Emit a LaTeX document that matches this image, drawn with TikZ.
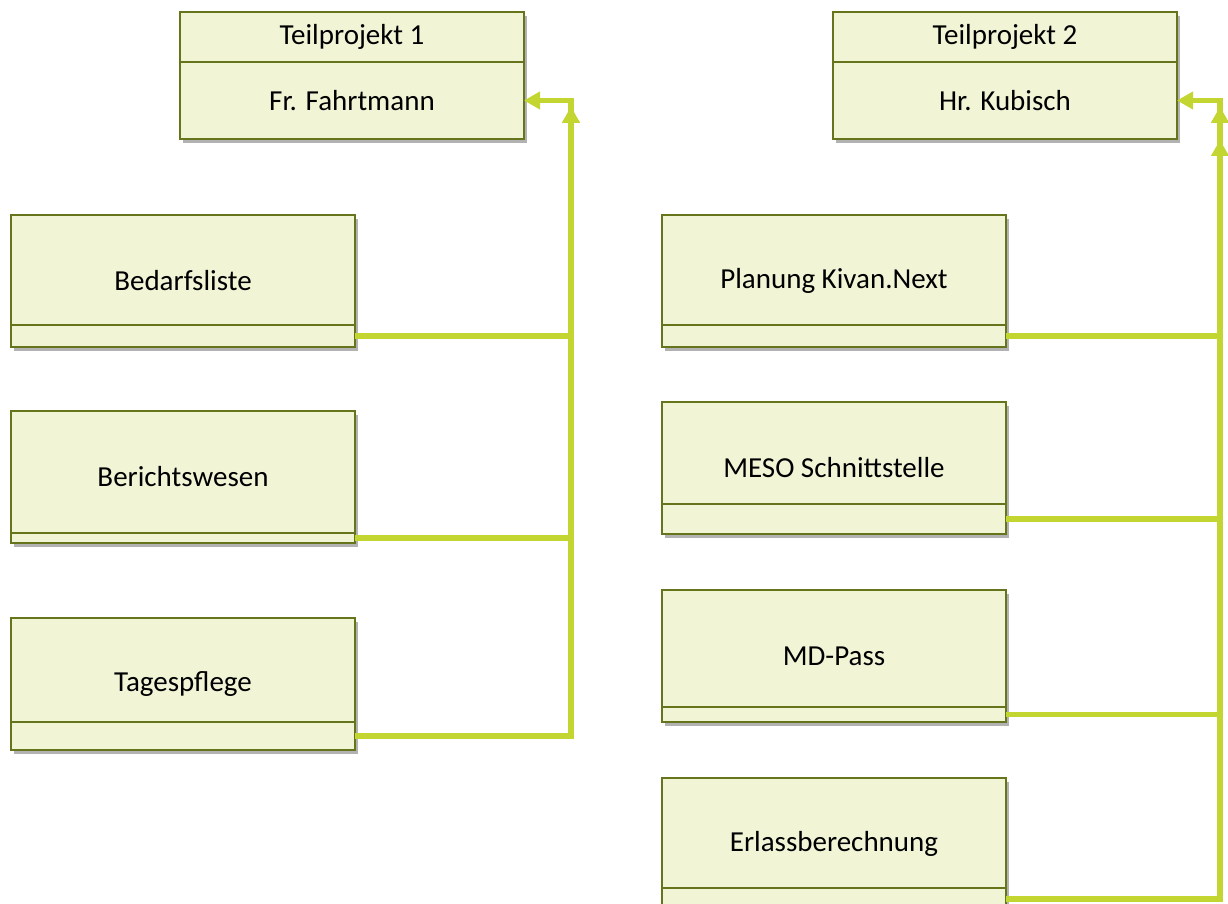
\documentclass[tikz,border=0pt]{standalone}
\usepackage{fontspec}
\setmainfont{Carlito}
\usetikzlibrary{positioning,arrows.meta,shadows}
\definecolor{boxfill}{RGB}{241,245,214}
\definecolor{boxline}{RGB}{102,116,28}
\definecolor{linkline}{RGB}{195,213,48}

\begin{document}
\begin{tikzpicture}[x=0.5pt, y=-0.5pt,
  every node/.style={font=\fontsize{14.5}{17}\selectfont},
  box/.style={draw=boxline, fill=boxfill, line width=1.4pt, minimum width=172pt,
    inner sep=0pt, outer sep=0pt, anchor=north west},
  shade/.style={drop shadow={shadow xshift=1.5pt, shadow yshift=-2pt, fill=black, opacity=0.3}},
  head/.style={box, shade, minimum height=25pt},
  body/.style={box, shade, minimum height=38.5pt},
  item/.style={box, shade, minimum height=66pt},
  foot/.style={box, minimum height=#1},
  link/.style={draw=linkline, line width=2.6pt, -{Triangle[length=8pt,width=8.5pt]}}]
\useasboundingbox (0,0) rectangle (1228,904);

% Teilprojekt 1
\node[head] (tp1) at (180,12) {Teilprojekt 1};
\node[body, below=0pt of tp1] (fahrt) {Fr. Fahrtmann};
\node[item] (bed) at (11,215) {Bedarfsliste};
\node[foot=11pt, above=0pt of bed.south] (bedfoot) {};
\node[item] (ber) at (11,411) {Berichtswesen};
\node[foot=5pt, above=0pt of ber.south] (berfoot) {};
\node[item] (tag) at (11,618) {Tagespflege};
\node[foot=14pt, above=0pt of tag.south] (tagfoot) {};

% Teilprojekt 2
\node[head] (tp2) at (833,12) {Teilprojekt 2};
\node[body, below=0pt of tp2] (kub) {Hr. Kubisch};
\node[item] (plan) at (662,215) {Planung Kivan.Next};
\node[foot=11pt, above=0pt of plan.south] (planfoot) {};
\node[item] (meso) at (662,402) {MESO Schnittstelle};
\node[foot=15pt, above=0pt of meso.south] (mesofoot) {};
\node[item] (md) at (662,590) {MD-Pass};
\node[foot=7.5pt, above=0pt of md.south] (mdfoot) {};
\node[item] (erl) at (662,778) {Erlassberechnung};
\node[foot=11pt, above=0pt of erl.south] (erlfoot) {};

\coordinate (lbus) at (571,0);
\coordinate (rbus) at (1220,0);
\coordinate (ltip) at (571,107);
\coordinate (rtip) at (1220,107);
\coordinate (rtip2) at (1220,140);

\draw[link] (bedfoot.east) -| (ltip);
\draw[link] (berfoot.east) -| (ltip);
\draw[link] (tagfoot.east) -| (fahrt.east -| lbus) -- (fahrt.east);

\draw[link] (planfoot.east) -| (rtip);
\draw[link] (mesofoot.east) -| (rtip);
\draw[link] (mdfoot.east) -| (rtip2);
\draw[link] (erlfoot.east) -| (kub.east -| rbus) -- (kub.east);
\end{tikzpicture}
\end{document}
